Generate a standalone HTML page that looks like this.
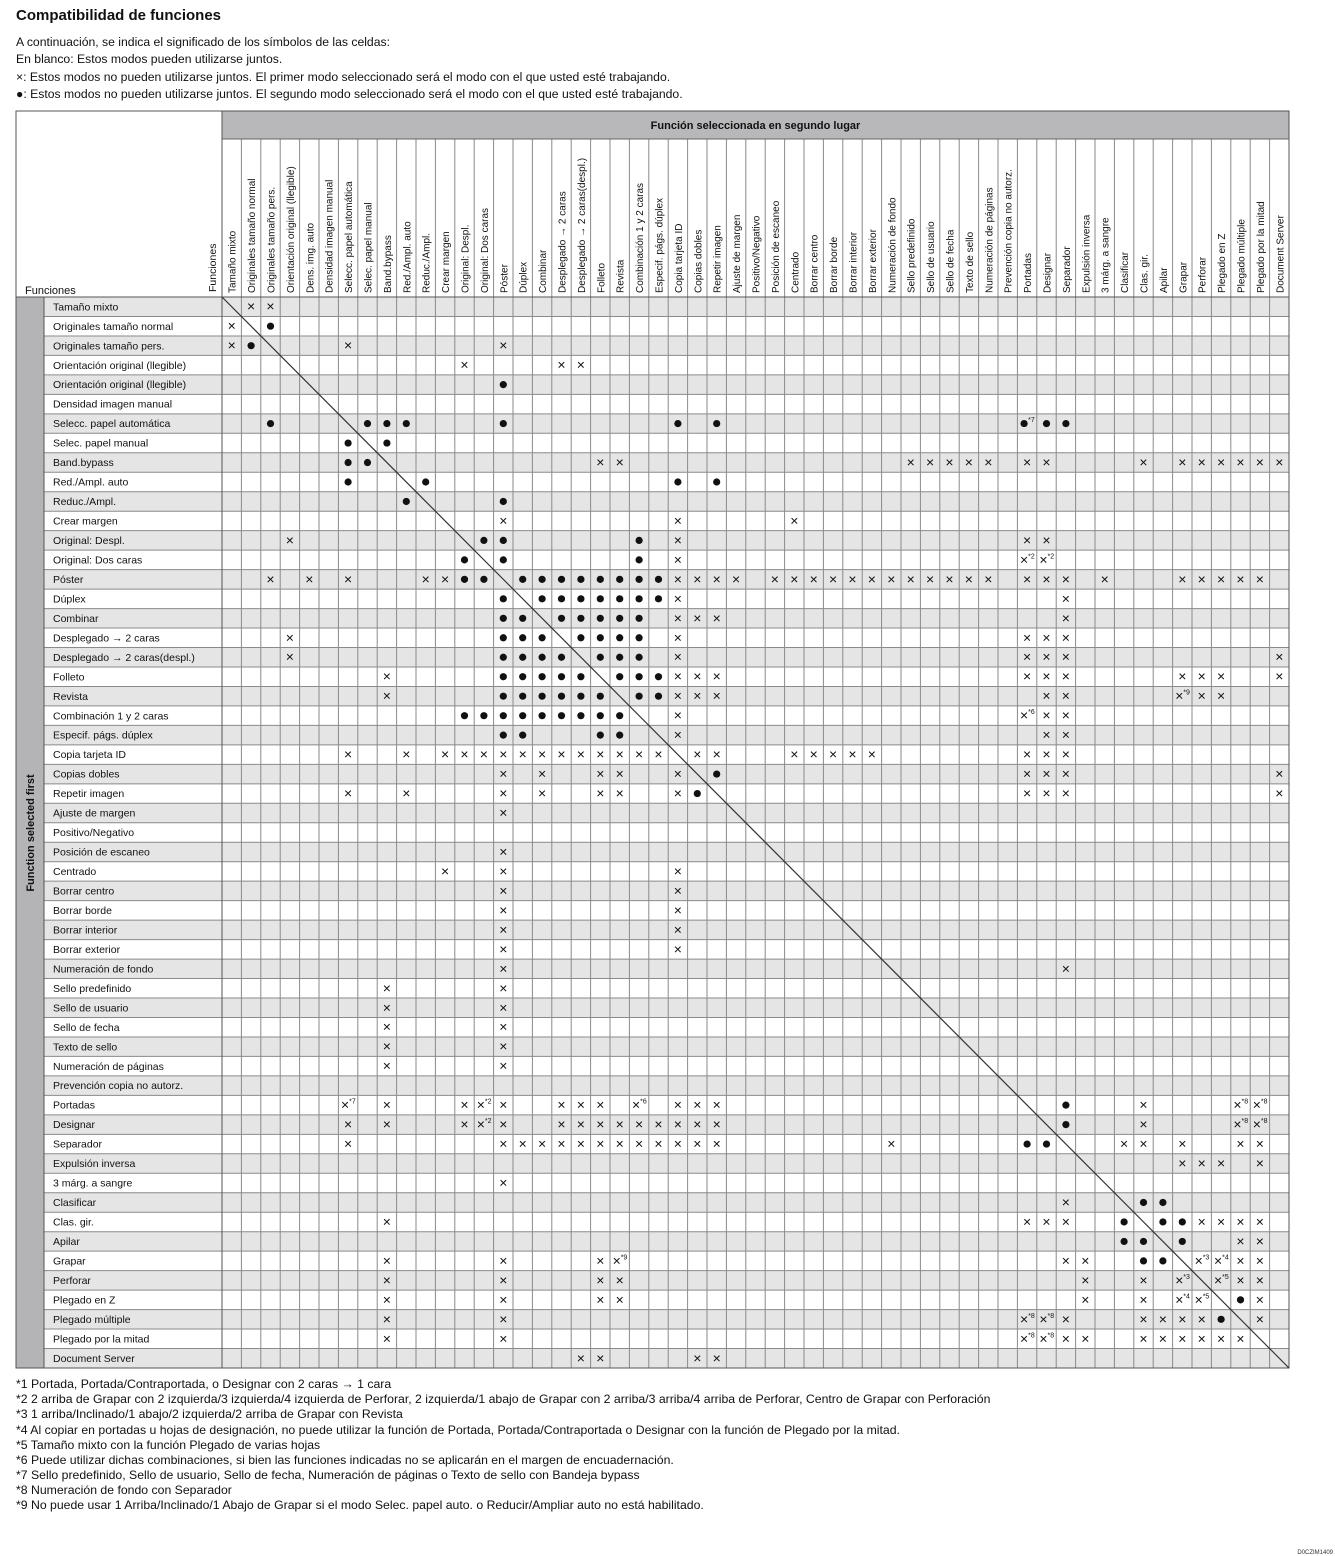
<!DOCTYPE html>
<html><head><meta charset="utf-8"><style>
body{margin:0;background:#fff;}
svg{display:block;font-family:"Liberation Sans",Arial,sans-serif;}
</style></head><body>
<svg id="s" xmlns="http://www.w3.org/2000/svg" width="1335" height="1556" viewBox="0 0 1335 1556">
<text x="16" y="20" font-size="15" font-weight="bold" fill="#111">Compatibilidad de funciones</text>
<g font-size="12.2" fill="#111">
<text x="16" y="46">A continuación, se indica el significado de los símbolos de las celdas:</text>
<text x="16" y="63">En blanco: Estos modos pueden utilizarse juntos.</text>
<text x="16" y="81">×: Estos modos no pueden utilizarse juntos. El primer modo seleccionado será el modo con el que usted esté trabajando.</text>
<text x="16" y="98">●: Estos modos no pueden utilizarse juntos. El segundo modo seleccionado será el modo con el que usted esté trabajando.</text>
</g>
<g font-size="12.25" fill="#111">
<text x="16" y="1388">*1 Portada, Portada/Contraportada, o Designar con 2 caras → 1 cara</text>
<text x="16" y="1403">*2 2 arriba de Grapar con 2 izquierda/3 izquierda/4 izquierda de Perforar, 2 izquierda/1 abajo de Grapar con 2 arriba/3 arriba/4 arriba de Perforar, Centro de Grapar con Perforación</text>
<text x="16" y="1418">*3 1 arriba/Inclinado/1 abajo/2 izquierda/2 arriba de Grapar con Revista</text>
<text x="16" y="1434">*4 Al copiar en portadas u hojas de designación, no puede utilizar la función de Portada, Portada/Contraportada o Designar con la función de Plegado por la mitad.</text>
<text x="16" y="1449">*5 Tamaño mixto con la función Plegado de varias hojas</text>
<text x="16" y="1464">*6 Puede utilizar dichas combinaciones, si bien las funciones indicadas no se aplicarán en el margen de encuadernación.</text>
<text x="16" y="1479">*7 Sello predefinido, Sello de usuario, Sello de fecha, Numeración de páginas o Texto de sello con Bandeja bypass</text>
<text x="16" y="1494">*8 Numeración de fondo con Separador</text>
<text x="16" y="1509">*9 No puede usar 1 Arriba/Inclinado/1 Abajo de Grapar si el modo Selec. papel auto. o Reducir/Ampliar auto no está habilitado.</text>
</g>
<text x="1333" y="1554" font-size="6" text-anchor="end" fill="#333">D0CZIM1409</text>
<g id="t"></g>
</svg>
<script>
var names=["Tamaño mixto","Originales tamaño normal","Originales tamaño pers.","Orientación original (llegible)","Dens. img. auto","Densidad imagen manual","Selecc. papel automática","Selec. papel manual","Band.bypass","Red./Ampl. auto","Reduc./Ampl.","Crear margen","Original: Despl.","Original: Dos caras","Póster","Dúplex","Combinar","Desplegado → 2 caras","Desplegado → 2 caras(despl.)","Folleto","Revista","Combinación 1 y 2 caras","Especif. págs. dúplex","Copia tarjeta ID","Copias dobles","Repetir imagen","Ajuste de margen","Positivo/Negativo","Posición de escaneo","Centrado","Borrar centro","Borrar borde","Borrar interior","Borrar exterior","Numeración de fondo","Sello predefinido","Sello de usuario","Sello de fecha","Texto de sello","Numeración de páginas","Prevención copia no autorz.","Portadas","Designar","Separador","Expulsión inversa","3 márg. a sangre","Clasificar","Clas. gir.","Apilar","Grapar","Perforar","Plegado en Z","Plegado múltiple","Plegado por la mitad","Document Server"];
var rows=names.slice();rows[4]="Orientación original (llegible)";
var D=[
"x1 x2","x0 o2","x0 o1 x6 x14","x12 x17 x18","o14","",
"o2 o7 o8 o9 o14 o23 o25 o41^7 o42 o43",
"o6 o8",
"o6 o7 x19 x20 x35 x36 x37 x38 x39 x41 x42 x47 x49 x50 x51 x52 x53 x54",
"o6 o10 o23 o25","o9 o14","x14 x23 x29",
"x3 o13 o14 o21 x23 x41 x42",
"o12 o14 o21 x23 x41^2 x42^2",
"x2 x4 x6 x10 x11 o12 o13 o15 o16 o17 o18 o19 o20 o21 o22 x23 x24 x25 x26 x28 x29 x30 x31 x32 x33 x34 x35 x36 x37 x38 x39 x41 x42 x43 x45 x49 x50 x51 x52 x53",
"o14 o16 o17 o18 o19 o20 o21 o22 x23 x43",
"o14 o15 o17 o18 o19 o20 o21 x23 x24 x25 x43",
"x3 o14 o15 o16 o18 o19 o20 o21 x23 x41 x42 x43",
"x3 o14 o15 o16 o17 o19 o20 o21 x23 x41 x42 x43 x54",
"x8 o14 o15 o16 o17 o18 o20 o21 o22 x23 x24 x25 x41 x42 x43 x49 x50 x51 x54",
"x8 o14 o15 o16 o17 o18 o19 o21 o22 x23 x24 x25 x42 x43 x49^9 x50 x51",
"o12 o13 o14 o15 o16 o17 o18 o19 o20 x23 x41^6 x42 x43",
"o14 o15 o19 o20 x23 x42 x43",
"x6 x9 x11 x12 x13 x14 x15 x16 x17 x18 x19 x20 x21 x22 x24 x25 x29 x30 x31 x32 x33 x41 x42 x43",
"x14 x16 x19 x20 x23 o25 x41 x42 x43 x54",
"x6 x9 x14 x16 x19 x20 x23 o24 x41 x42 x43 x54",
"x14","","x14","x11 x14 x23","x14 x23","x14 x23","x14 x23","x14 x23","x14 x43",
"x8 x14","x8 x14","x8 x14","x8 x14","x8 x14","",
"x6^7 x8 x12 x13^2 x14 x17 x18 x19 x21^6 x23 x24 x25 o43 x47 x52^8 x53^8",
"x6 x8 x12 x13^2 x14 x17 x18 x19 x20 x21 x22 x23 x24 x25 o43 x47 x52^8 x53^8",
"x6 x14 x15 x16 x17 x18 x19 x20 x21 x22 x23 x24 x25 x34 o41 o42 x46 x47 x49 x52 x53",
"x49 x50 x51 x53","x14","x43 o47 o48",
"x8 x41 x42 x43 o46 o48 o49 x50 x51 x52 x53",
"o46 o47 o49 x52 x53",
"x8 x14 x19 x20^9 x43 x44 o47 o48 x50^3 x51^4 x52 x53",
"x8 x14 x19 x20 x44 x47 x49^3 x51^5 x52 x53",
"x8 x14 x19 x20 x44 x47 x49^4 x50^5 o52 x53",
"x8 x14 x41^8 x42^8 x43 x47 x48 x49 x50 o51 x53",
"x8 x14 x41^8 x42^8 x43 x44 x47 x48 x49 x50 x51 x52",
"x18 x19 x24 x25"];
var N=55,x0=222,x1=1289,y0=297,y1=1368,cw=(x1-x0)/N,rh=(y1-y0)/N;
var h='';
h+='<rect x="16" y="111" width="1273" height="1257" fill="#fff"/>';
for(var r=0;r<N;r++){var y=y0+r*rh;if(r%2==0)h+='<rect x="44" y="'+y+'" width="'+(x1-44)+'" height="'+rh+'" fill="#e5e5e5"/>';}
h+='<rect x="16" y="297" width="28" height="'+(y1-297)+'" fill="#b4b4b6"/>';
h+='<rect x="222" y="111" width="'+(x1-222)+'" height="28" fill="#b8b8ba"/>';
h+='<text x="'+((222+x1)/2)+'" y="129" font-size="11" font-weight="bold" text-anchor="middle" fill="#111">Función seleccionada en segundo lugar</text>';
h+='<text x="25" y="294" font-size="11" fill="#111">Funciones</text>';
h+='<text transform="translate(216,292) rotate(-90)" font-size="10.5" fill="#111">Funciones</text>';
h+='<text transform="translate(34,833) rotate(-90)" font-size="11" font-weight="bold" text-anchor="middle" fill="#111">Function selected first</text>';
for(var r=0;r<=N;r++){var y=y0+r*rh;h+='<line x1="44" x2="'+x1+'" y1="'+y+'" y2="'+y+'" stroke="#8a8a8a" stroke-width="1"/>';}
for(var c=0;c<=N;c++){var x=x0+c*cw;h+='<line x1="'+x+'" x2="'+x+'" y1="139" y2="'+y1+'" stroke="#8a8a8a" stroke-width="1"/>';}
h+='<line x1="222" x2="'+x1+'" y1="139" y2="139" stroke="#666"/>';
h+='<line x1="44" x2="44" y1="297" y2="'+y1+'" stroke="#555"/>';
h+='<line x1="222" x2="222" y1="111" y2="'+y1+'" stroke="#555"/>';
h+='<line x1="16" x2="'+x1+'" y1="297" y2="297" stroke="#555"/>';
h+='<rect x="16" y="111" width="'+(x1-16)+'" height="'+(y1-111)+'" fill="none" stroke="#555"/>';
h+='<line x1="'+x0+'" y1="'+y0+'" x2="'+x1+'" y2="'+y1+'" stroke="#333" stroke-width="1.2"/>';
for(var c=0;c<N;c++){var x=x0+c*cw+cw/2+4;h+='<text transform="translate('+x+',293) rotate(-90)" font-size="10" fill="#111">'+names[c]+'</text>';}
for(var r=0;r<N;r++){var y=y0+r*rh+rh/2+3.6;h+='<text x="53" y="'+y+'" font-size="10.5" fill="#111">'+rows[r]+'</text>';
 var toks=D[r].split(' ');for(var k=0;k<toks.length;k++){var t=toks[k];if(!t)continue;var ty=t[0],rest=t.slice(1).split('^'),c=+rest[0],sup=rest[1];
  var cx=x0+c*cw+cw/2,cy=y0+r*rh+rh/2;if(sup)cx-=3;
  if(ty=='o')h+='<circle cx="'+cx+'" cy="'+cy+'" r="3.6" fill="#111"/>';
  else h+='<text x="'+cx+'" y="'+(cy+4.5)+'" font-size="14" text-anchor="middle" fill="#111">×</text>';
  if(sup)h+='<text x="'+(cx+4)+'" y="'+(cy-1.5)+'" font-size="7" fill="#111">*'+sup+'</text>';}}
document.getElementById('t').innerHTML=h;
</script>
</body></html>
